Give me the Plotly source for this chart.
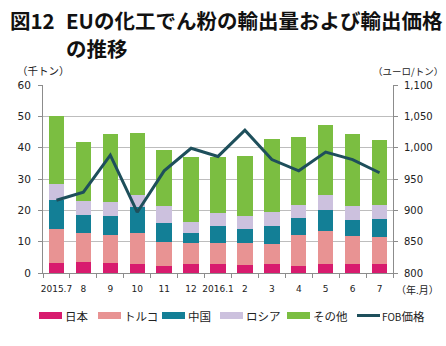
import plotly.graph_objects as go

# Monthly export volume of modified starch from the EU (thousand tonnes) and FOB price (EUR/t)
months = ["2015.7", "8", "9", "10", "11", "12", "2016.1", "2", "3", "4", "5", "6", "7"]
japan = [3.3, 3.5, 3.3, 3.0, 2.2, 2.8, 2.8, 2.5, 2.9, 2.2, 2.9, 2.9, 2.9]
turkey = [10.6, 9.4, 8.7, 9.7, 7.6, 6.7, 6.7, 7.1, 6.2, 9.8, 10.4, 8.9, 8.6]
china = [9.3, 5.6, 6.2, 8.3, 6.0, 3.4, 5.5, 4.4, 6.0, 5.6, 6.7, 5.0, 5.7]
russia = [5.3, 4.5, 4.4, 4.0, 5.5, 3.5, 4.0, 4.1, 4.5, 4.2, 5.0, 4.7, 4.6]
others = [21.6, 18.7, 21.7, 19.8, 18.0, 20.7, 17.9, 19.4, 23.2, 21.6, 22.2, 23.0, 20.8]
fob_price = [916, 929, 988, 897, 963, 999, 986, 1028, 981, 963, 993, 981, 960]

series = [
    ("日本", japan, "#D81B6E"),
    ("トルコ", turkey, "#E89393"),
    ("中国", china, "#137F96"),
    ("ロシア", russia, "#CCC1DE"),
    ("その他", others, "#7BBE41"),
]
line_name = "FOB価格"
line_color = "#1E4F5B"

font_jp = "Noto Sans CJK JP"
font_num = "DejaVu Sans"

W, H = 446, 346
L, R, T, B = 43, 53, 85, 73
PW, PH = W - L - R, H - T - B


def px_x(px):
    """Pixel x on the page -> paper coordinate."""
    return (px - L) / PW


def px_y(py):
    """Pixel y on the page -> paper coordinate."""
    return (H - B - py) / PH


fig = go.Figure()

for name, vals, color in series:
    fig.add_trace(go.Bar(
        x=months, y=vals, name=name, marker=dict(color=color, line=dict(width=0)),
        yaxis="y",
    ))

fig.add_trace(go.Scatter(
    x=months, y=fob_price, name=line_name, mode="lines",
    line=dict(color=line_color, width=3), yaxis="y2",
))

axis_col = "#8C8C8C"
fig.update_layout(
    width=W, height=H,
    margin=dict(l=L, r=R, t=T, b=B),
    paper_bgcolor="white", plot_bgcolor="white",
    barmode="stack", bargap=0.43,
    showlegend=False,
    font=dict(family=font_num, size=10, color="#222222"),
    xaxis=dict(
        type="category", showgrid=False, showline=True, linecolor=axis_col,
        ticks="outside", tickson="boundaries", ticklen=4, tickcolor=axis_col,
        tickangle=0, ticklabelstandoff=7, tickfont=dict(family=font_num, size=9),
    ),
    yaxis=dict(
        range=[0, 60], dtick=10, showgrid=True, gridcolor="#BDBDBD", gridwidth=1,
        showline=True, linecolor=axis_col, ticks="outside", ticklen=4, tickcolor=axis_col,
        zeroline=False, ticklabelstandoff=5, tickfont=dict(family=font_num, size=10.5),
    ),
    yaxis2=dict(
        range=[800, 1100], dtick=50, overlaying="y", side="right", showgrid=False,
        showline=True, linecolor=axis_col, ticks="outside", ticklen=4, tickcolor=axis_col,
        tickformat=",", zeroline=False, ticklabelstandoff=4,
        tickfont=dict(family=font_num, size=10),
    ),
)

# Title (two lines, second line aligned under "EU")
title_font = dict(family=font_jp, size=20.5, color="#111111")
for text, x, y in [
    ("<b>図12</b>", 8, 19.5),
    ("<b>EUの化工でん粉の輸出量および輸出価格</b>", 64, 19.5),
    ("<b>の推移</b>", 64, 48),
]:
    fig.add_annotation(text=text, x=px_x(x), y=px_y(y), xref="paper", yref="paper",
                       xanchor="left", yanchor="middle", showarrow=False, font=title_font)

# Axis unit labels
unit_font = dict(family=font_jp, size=10.5, color="#222222")
fig.add_annotation(text="（千トン）", x=px_x(15), y=px_y(71), xref="paper", yref="paper",
                   xanchor="left", yanchor="middle", showarrow=False, font=unit_font)
fig.add_annotation(text="（ユーロ/トン）", x=px_x(445), y=px_y(71), xref="paper", yref="paper",
                   xanchor="right", yanchor="middle", showarrow=False,
                   font=dict(family=font_jp, size=9.5, color="#222222"))
fig.add_annotation(text="（年.月）", x=px_x(394), y=px_y(289), xref="paper", yref="paper",
                   xanchor="left", yanchor="middle", showarrow=False,
                   font=dict(family=font_jp, size=10, color="#222222"))

# Legend row: wide swatches with labels
legend_y = 315.5
legend_font = dict(family=font_jp, size=11.5, color="#222222")
swatch_starts = [39, 98, 162, 220, 287]
for (name, _, color), x0 in zip(series, swatch_starts):
    fig.add_shape(type="rect", xref="paper", yref="paper",
                  x0=px_x(x0), x1=px_x(x0 + 23), y0=px_y(legend_y + 3.5), y1=px_y(legend_y - 3.5),
                  fillcolor=color, line=dict(width=0))
    fig.add_annotation(text=name, x=px_x(x0 + 24), y=px_y(legend_y), xref="paper", yref="paper",
                       xanchor="left", yanchor="middle", showarrow=False, font=legend_font)
fig.add_shape(type="line", xref="paper", yref="paper",
              x0=px_x(357), x1=px_x(380), y0=px_y(legend_y), y1=px_y(legend_y),
              line=dict(color=line_color, width=3))
fig.add_annotation(text='<span style="font-size:10px">FOB</span>価格', x=px_x(380), y=px_y(legend_y),
                   xref="paper", yref="paper", xanchor="left", yanchor="middle",
                   showarrow=False, font=legend_font)

fig.write_html("out.html")
